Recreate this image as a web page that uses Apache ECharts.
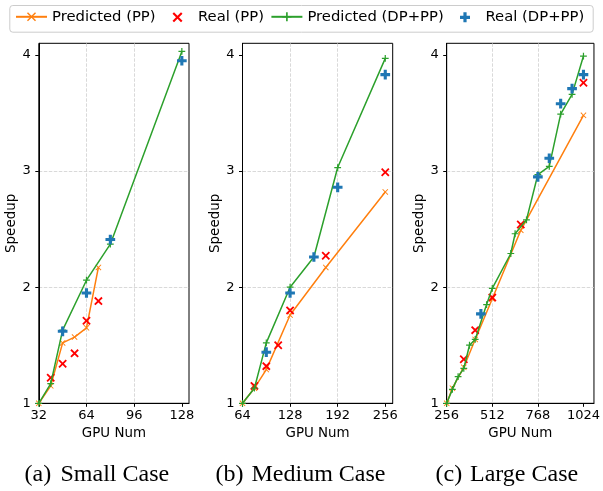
<!DOCTYPE html>
<html>
<head>
<meta charset="utf-8">
<script src="https://cdn.jsdelivr.net/npm/echarts@6/dist/echarts.min.js"></script>
<style>
  html, body { margin: 0; padding: 0; background: #fff; }
  #main { width: 603px; height: 491px; }
</style>
</head>
<body>
<div id="main"></div>
<script>
// small case
var smallPredPPx = [32, 40, 48, 56, 64, 72];
var smallPredPPy = [1.00, 1.15, 1.52, 1.57, 1.65, 2.17];
var smallRealPPx = [40, 48, 56, 64, 72];
var smallRealPPy = [1.22, 1.34, 1.43, 1.71, 1.88];
var smallPredDPx = [32, 40, 48, 64, 80, 128];
var smallPredDPy = [1.00, 1.17, 1.63, 2.06, 2.37, 4.03];
var smallRealDPx = [48, 64, 80, 128];
var smallRealDPy = [1.62, 1.95, 2.41, 3.95];

// medium case
var medPredPPx = [64, 80, 96, 128, 176, 256];
var medPredPPy = [1.00, 1.13, 1.29, 1.76, 2.17, 2.82];
var medRealPPx = [80, 96, 112, 128, 176, 256];
var medRealPPy = [1.15, 1.32, 1.50, 1.80, 2.27, 2.99];
var medPredDPx = [64, 80, 96, 128, 160, 192, 256];
var medPredDPy = [1.00, 1.13, 1.52, 2.00, 2.26, 3.03, 3.97];
var medRealDPx = [96, 128, 160, 192, 256];
var medRealDPy = [1.44, 1.95, 2.26, 2.86, 3.83];

// large case
var largePredPPx = [256, 288, 352, 416, 512, 672, 1024];
var largePredPPy = [1.00, 1.13, 1.31, 1.55, 1.90, 2.49, 3.48];
var largeRealPPx = [352, 416, 512, 672, 1024];
var largeRealPPy = [1.38, 1.63, 1.91, 2.54, 3.76];
var largePredDPx = [256, 288, 320, 352, 384, 416, 480, 512, 616, 640, 704, 768, 832, 896, 960, 1024];
var largePredDPy = [1.00, 1.12, 1.23, 1.30, 1.50, 1.55, 1.85, 1.99, 2.29, 2.46, 2.58, 2.97, 3.04, 3.49, 3.66, 3.99];
var largeRealDPx = [448, 768, 832, 896, 960, 1024];
var largeRealDPy = [1.77, 2.95, 3.11, 3.58, 3.71, 3.83];

var xTicks = [[32, 64, 96, 128], [64, 128, 192, 256], [256, 512, 768, 1024]];
var yTicks = [1, 2, 3, 4];
var xRanges = [[32, 132.8], [64, 266], [256, 1083]];
var captionTags = ["(a)", "(b)", "(c)"];
var captionNames = ["Small Case", "Medium Case", "Large Case"];

var names = ["Predicted (PP)", "Real (PP)", "Predicted (DP+PP)", "Real (DP+PP)"];
var colors = ["#ff7f0e", "#ff0000", "#2ca02c", "#1f77b4"];

// marker shapes, padded with move-to points so legend icons stay small
var xThin = "path://M-2.1,-2.1M12.1,12.1M0,1.1L1.1,0L5,3.9L8.9,0L10,1.1L6.1,5L10,8.9L8.9,10L5,6.1L1.1,10L0,8.9L3.9,5Z";
var xBold = "path://M-3,-3M13,13M0,1.5L1.5,0L5,3.5L8.5,0L10,1.5L6.5,5L10,8.5L8.5,10L5,6.5L1.5,10L0,8.5L3.5,5Z";
var plusThin = "path://M-2,-2M12,12M4.1,0H5.9V4.1H10V5.9H5.9V10H4.1V5.9H0V4.1H4.1Z";
var plusBold = "path://M-3,-3M13,13M3.4,0H6.6V3.4H10V6.6H6.6V10H3.4V6.6H0V3.4H3.4Z";

function pairs(xs, ys) {
  return xs.map(function (x, i) { return [x, ys[i]]; });
}

var font = "DejaVu Sans";
var gridLefts = [38.8, 242.5, 446.7];

var grids = [], xAxes = [], yAxes = [], series = [];
var cases = [
  [smallPredPPx, smallPredPPy, smallRealPPx, smallRealPPy, smallPredDPx, smallPredDPy, smallRealDPx, smallRealDPy],
  [medPredPPx, medPredPPy, medRealPPx, medRealPPy, medPredDPx, medPredDPy, medRealDPx, medRealDPy],
  [largePredPPx, largePredPPy, largeRealPPx, largeRealPPy, largePredDPx, largePredDPy, largeRealDPx, largeRealDPy]
];

for (var i = 0; i < 3; i++) {
  grids.push({
    left: gridLefts[i], top: 43.3, width: 150.2, height: 360,
    show: true, borderColor: "#000", borderWidth: 1, backgroundColor: "transparent"
  });
  var step = xTicks[i][1] - xTicks[i][0];
  xAxes.push({
    gridIndex: i, type: "value",
    min: xRanges[i][0], max: xRanges[i][1], interval: step,
    name: "GPU Num", nameLocation: "middle", nameGap: 23,
    nameTextStyle: { fontFamily: font, fontSize: 13.4, color: "#000" },
    axisLine: { show: true, onZero: false, lineStyle: { color: "#000", width: 1 } },
    axisTick: { show: true, inside: false, length: 3.5, customValues: xTicks[i], lineStyle: { color: "#000" } },
    axisLabel: { customValues: xTicks[i], margin: 5.5, fontFamily: font, fontSize: 13, color: "#000",
      formatter: function (v) { return String(v); } },
    splitLine: { show: true, showMinLine: false, showMaxLine: false,
      lineStyle: { color: "#cfcfcf", width: 0.8, type: [3.5, 1.5] } }
  });
  yAxes.push({
    gridIndex: i, type: "value", min: 1, max: 4.1, interval: 1,
    name: "Speedup", nameLocation: "middle", nameGap: 20,
    nameTextStyle: { fontFamily: font, fontSize: 13.5, color: "#000" },
    axisLine: { show: true, onZero: false, lineStyle: { color: "#000", width: 1 } },
    axisTick: { show: true, inside: false, length: 3.5, customValues: yTicks, lineStyle: { color: "#000" } },
    axisLabel: { customValues: yTicks, margin: 8, fontFamily: font, fontSize: 13, color: "#000" },
    splitLine: { show: true, showMinLine: false, showMaxLine: false,
      lineStyle: { color: "#cfcfcf", width: 0.8, type: [3.5, 1.5] } }
  });

  var d = cases[i];
  series.push({
    name: names[0], type: "line", xAxisIndex: i, yAxisIndex: i,
    data: pairs(d[0], d[1]), symbol: xThin, symbolSize: 8.5, showSymbol: true,
    itemStyle: { color: colors[0] }, lineStyle: { color: colors[0], width: 1.5 }, z: 2
  });
  series.push({
    name: names[1], type: "scatter", xAxisIndex: i, yAxisIndex: i,
    data: pairs(d[2], d[3]), symbol: xBold, symbolSize: 13.6,
    itemStyle: { color: colors[1], opacity: 1 }, z: 3
  });
  series.push({
    name: names[2], type: "line", xAxisIndex: i, yAxisIndex: i,
    data: pairs(d[4], d[5]), symbol: plusThin, symbolSize: 9.5, showSymbol: true,
    itemStyle: { color: colors[2] }, lineStyle: { color: colors[2], width: 1.5 }, z: 4
  });
  series.push({
    name: names[3], type: "scatter", xAxisIndex: i, yAxisIndex: i,
    data: pairs(d[6], d[7]), symbol: plusBold, symbolSize: 15.5,
    itemStyle: { color: colors[3], opacity: 1 }, z: 5
  });
}

// one legend per entry so each can sit where the reference has it
var legendLefts = [15, 169.5, 270.4, 457];
var legends = names.map(function (n, j) {
  return {
    data: [n], left: legendLefts[j], top: 9.3, padding: 0,
    itemWidth: 31, itemHeight: 16,
    textStyle: { fontFamily: font, fontSize: 14.8, color: "#000" }
  };
});

var captionTagX = [24.5, 215.5, 435.5];
var captionNameX = [60.5, 251.5, 470];
var graphics = [{
  type: "rect", left: 9.3, top: 5, z: -1,
  shape: { width: 583.4, height: 26.7, r: 3 },
  style: { fill: "#fff", stroke: "#cccccc", lineWidth: 1 }
}];
for (var k = 0; k < 3; k++) {
  graphics.push({
    type: "text", left: captionTagX[k], top: 463,
    style: { text: captionTags[k], font: "24px 'Liberation Serif'", fill: "#000" }
  });
  graphics.push({
    type: "text", left: captionNameX[k], top: 463,
    style: { text: captionNames[k], font: "24px 'Liberation Serif'", fill: "#000" }
  });
}

var chart = echarts.init(document.getElementById("main"), null, { renderer: "canvas" });
chart.setOption({
  animation: false,
  backgroundColor: "#fff",
  legend: legends,
  grid: grids,
  xAxis: xAxes,
  yAxis: yAxes,
  series: series,
  graphic: graphics
});
</script>
</body>
</html>
